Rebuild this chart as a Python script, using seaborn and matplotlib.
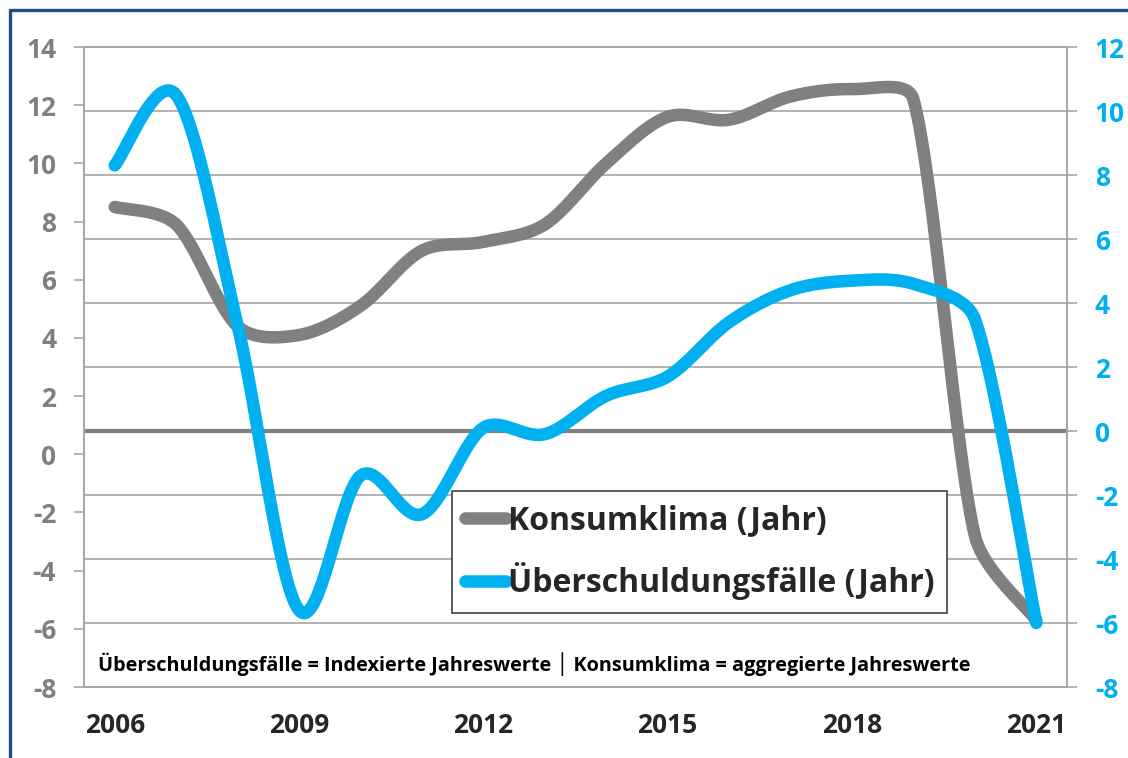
import numpy as np
import pandas as pd
import matplotlib
matplotlib.use("Agg")
import matplotlib.pyplot as plt
import matplotlib.transforms as mtrans
from matplotlib.lines import Line2D
import seaborn as sns

# ---- data ----
years = [2006, 2007, 2008, 2009, 2010, 2011, 2012, 2013,
         2014, 2015, 2016, 2017, 2018, 2019, 2020, 2021]
konsumklima = [8.5, 7.9, 4.4, 4.1, 5.1, 7.0, 7.3, 7.9,
               10.0, 11.6, 11.5, 12.3, 12.55, 12.2, -2.8, -5.7]
ueberschuldung = [8.3, 10.5, 3.3, -5.6, -1.4, -2.6, 0.1, -0.1,
                  1.1, 1.7, 3.4, 4.4, 4.7, 4.6, 3.5, -6.0]

left_ticks = list(range(-8, 15, 2))
right_ticks = list(range(-8, 13, 2))
xtick_years = [2006, 2009, 2012, 2015, 2018, 2021]
note = "Überschuldungsfälle = Indexierte Jahreswerte │ Konsumklima = aggregierte Jahreswerte"

GRAY = "#808080"
BLUE = "#00B0F0"
GRID = "#a6a6a6"


def smooth_display(a, xs, ys, n=40):
    """Excel-like smoothed line: bezier through the points, computed in pixel space,
    control arms clamped to a third of the segment so sharp drops don't overshoot"""
    pts = a.transData.transform(np.column_stack([xs, ys]))
    p = np.vstack([pts[0], pts, pts[-1]])
    t = np.linspace(0, 1, n)[:, None]
    out = []
    for i in range(1, len(p) - 2):
        p0, p3 = p[i], p[i + 1]
        seg = np.linalg.norm(p3 - p0)
        t1 = (p[i + 1] - p[i - 1]) / 6
        t2 = (p[i + 2] - p[i]) / 6
        for tv in (t1, t2):
            ln = np.linalg.norm(tv)
            if ln > seg / 3 and ln > 0:
                tv *= (seg / 3) / ln
        c1 = p0 + t1
        c2 = p3 - t2
        out.append((1 - t) ** 3 * p0 + 3 * (1 - t) ** 2 * t * c1 + 3 * (1 - t) * t ** 2 * c2 + t ** 3 * p3)
    out = np.vstack(out)
    data = a.transData.inverted().transform(out)
    return data[:, 0], data[:, 1]


sns.set_style("white")
plt.rcParams["font.family"] = ["Open Sans", "DejaVu Sans"]

fig = plt.figure(figsize=(11.28, 7.58), dpi=100)
ax = fig.add_axes([84 / 1128, 1 - 687 / 758, (1067 - 84) / 1128, 640 / 758])
ax2 = ax.twinx()

ax.set_xlim(2005.5, 2021.5)
ax.set_ylim(-8, 14)
ax2.set_ylim(-8, 12)

# grid lines follow the right axis, drawn on the lower axes so lines sit on top
blend = mtrans.blended_transform_factory(ax.transAxes, ax2.transData)
for v in right_ticks:
    if v == 0:
        ax.plot([0, 1], [v, v], transform=blend, color=GRAY, lw=3, zorder=1)
    else:
        ax.plot([0, 1], [v, v], transform=blend, color=GRID, lw=1.2, zorder=0.5)

gx, gy = smooth_display(ax, years, konsumklima)
bx, by = smooth_display(ax2, years, ueberschuldung)
df_g = pd.DataFrame({"Jahr": gx, "Wert": gy})
df_b = pd.DataFrame({"Jahr": bx, "Wert": by})

sns.lineplot(data=df_g, x="Jahr", y="Wert", ax=ax, color=GRAY, lw=9,
             sort=False, estimator=None, legend=False, zorder=3)
sns.lineplot(data=df_b, x="Jahr", y="Wert", ax=ax2, color=BLUE, lw=9,
             sort=False, estimator=None, legend=False, zorder=3)
for ln in ax.lines[-1:] + ax2.lines[-1:]:
    ln.set_solid_capstyle("round")
    ln.set_solid_joinstyle("round")

# axes styling
for a in (ax, ax2):
    for s in a.spines.values():
        s.set_color(GRID)
        s.set_linewidth(1.2)
    a.set_xlabel("")
    a.set_ylabel("")
ax.set_xlim(2005.5, 2021.5)

ax.set_xticks(xtick_years)
ax.set_xticklabels([str(y) for y in xtick_years], fontsize=19, fontweight="bold")
ax.tick_params(axis="x", length=0, pad=18)

ax.set_yticks(left_ticks)
ax.set_yticklabels([str(v) for v in left_ticks], fontsize=19, fontweight="bold", color=GRAY)
ax.tick_params(axis="y", direction="out", length=7, width=1.2, color=GRID, pad=13, left=True)

ax2.set_yticks(right_ticks)
ax2.set_yticklabels([str(v) for v in right_ticks], fontsize=19, fontweight="bold", color=BLUE)
ax2.tick_params(axis="y", which="major", direction="out", length=7, width=1.2,
                color=GRID, pad=13, right=True, left=False)

handles = [Line2D([0], [0], color=GRAY, lw=9, solid_capstyle="round"),
           Line2D([0], [0], color=BLUE, lw=9, solid_capstyle="round")]
leg = ax2.legend(handles, ["Konsumklima (Jahr)", "Überschuldungsfälle (Jahr)"],
                 loc="upper left", bbox_to_anchor=(452 / 1128, 1 - 491 / 758),
                 bbox_transform=fig.transFigure, borderaxespad=0,
                 prop={"size": 23, "weight": "bold"}, handlelength=1.3,
                 handletextpad=0.05, borderpad=0.4, labelspacing=0.8,
                 frameon=True, fancybox=False, framealpha=1, edgecolor="#404040")
leg.get_frame().set_linewidth(1.2)
leg.set_zorder(10)

fig.text(98 / 1128, 1 - 664 / 758, note, fontsize=14.3, fontweight="bold",
         va="center", ha="left", color="black")

# dark blue frame around the chart
fig.add_artist(Line2D([10 / 1128, 10 / 1128], [0, 1 - 10 / 758], color="#1a4f8c", lw=2.4,
                      transform=fig.transFigure))
fig.add_artist(Line2D([10 / 1128, 1], [1 - 10 / 758, 1 - 10 / 758], color="#1a4f8c", lw=2.4,
                      transform=fig.transFigure))

fig.savefig("out.png", dpi=100)
